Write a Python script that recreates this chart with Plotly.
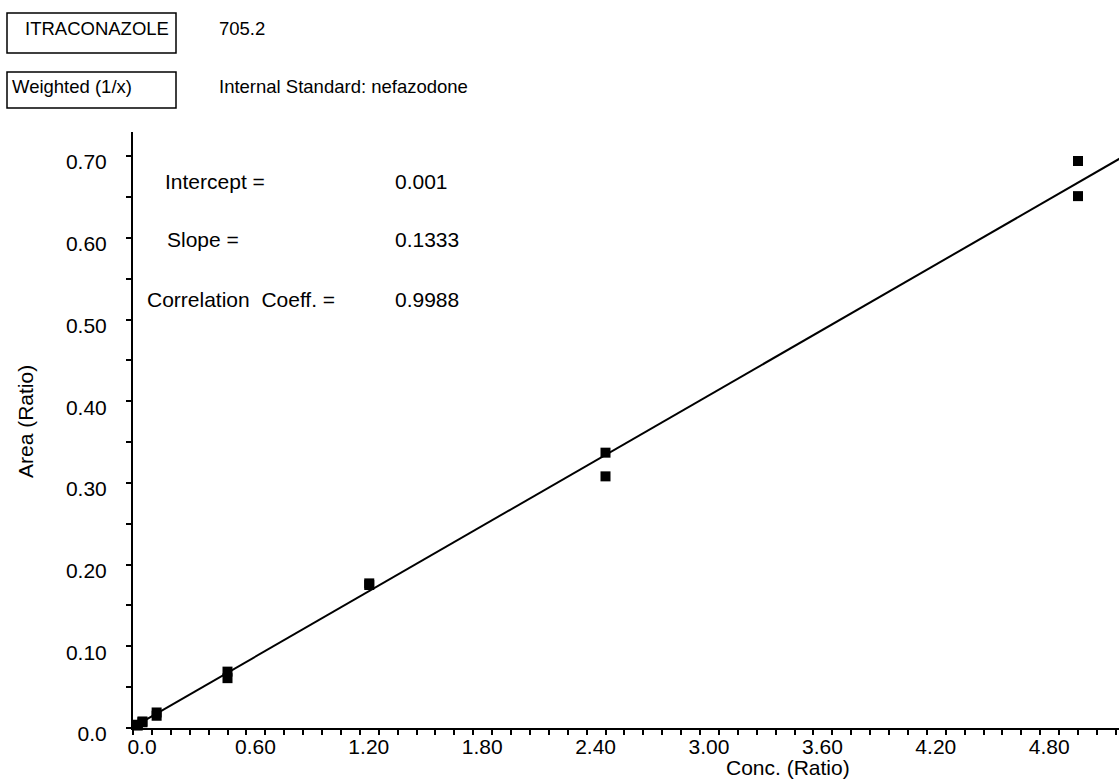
import plotly.graph_objects as go

# ---- data ----
conc = [0.025, 0.025, 0.05, 0.05, 0.125, 0.125, 0.5, 0.5, 1.25, 1.25, 2.5, 2.5, 5.0, 5.0]
area = [0.003, 0.004, 0.007, 0.008, 0.019, 0.015, 0.069, 0.061, 0.177, 0.175, 0.337, 0.308, 0.694, 0.651]
intercept = 0.001
slope = 0.1333
corr = 0.9988
line_x = [0.0, 5.3]

x_tickvals = [0.0, 0.6, 1.2, 1.8, 2.4, 3.0, 3.6, 4.2, 4.8]
x_ticktext = ["0.0", "0.60", "1.20", "1.80", "2.40", "3.00", "3.60", "4.20", "4.80"]
y_tickvals = [0.0, 0.1, 0.2, 0.3, 0.4, 0.5, 0.6, 0.7]
y_ticktext = ["0.0", "0.10", "0.20", "0.30", "0.40", "0.50", "0.60", "0.70"]

compound = "ITRACONAZOLE"
mass = "705.2"
weighting = "Weighted (1/x)"
istd = "Internal Standard: nefazodone"

# ---- layout geometry (pixels) ----
W, H = 1119, 780
L, R, T, B = 133, 0, 132, 52
PW, PH = W - L - R, H - T - B

def px(xp):
    return (xp - L) / PW

def py(yp):
    return (H - B - yp) / PH

FONT = "Liberation Sans, Arial, Helvetica, sans-serif"

fig = go.Figure()
line_y = [intercept + slope * v for v in line_x]
fig.add_trace(go.Scatter(x=line_x, y=line_y, mode="lines",
                         line=dict(color="black", width=2), showlegend=False,
                         cliponaxis=True))
fig.add_trace(go.Scatter(x=conc, y=area, mode="markers",
                         marker=dict(symbol="square", size=10, color="black",
                                     line=dict(width=0)),
                         showlegend=False, cliponaxis=False))

fig.update_layout(
    width=W, height=H,
    margin=dict(l=L, r=R, t=T, b=B, pad=0),
    paper_bgcolor="white", plot_bgcolor="white",
    font=dict(family=FONT, color="black", size=21),
    xaxis=dict(range=[0, PW / 189.0], showgrid=False, zeroline=False,
               showline=True, linecolor="black", linewidth=2,
               tickmode="array", tickvals=x_tickvals, ticktext=x_ticktext,
               ticks="outside", ticklen=5, tickwidth=1.5, tickcolor="black",
               minor=dict(dtick=0.1, tick0=0, ticks="outside", ticklen=5,
                          tickwidth=1.5, tickcolor="black", showgrid=False),
               tickfont=dict(size=21), ticklabelshift=9, ticklabelstandoff=-6,
               fixedrange=True),
    yaxis=dict(range=[0, PH / 817.0], showgrid=False, zeroline=False,
               showline=True, linecolor="black", linewidth=2,
               tickmode="array", tickvals=y_tickvals, ticktext=y_ticktext,
               ticks="outside", ticklen=5, tickwidth=1.5, tickcolor="black",
               minor=dict(dtick=0.05, tick0=0, ticks="outside", ticklen=5,
                          tickwidth=1.5, tickcolor="black", showgrid=False),
               tickfont=dict(size=21), ticklabelshift=6, ticklabelstandoff=15,
               fixedrange=True),
)

def note(text, xp, yp, size=21, anchor="left", angle=0):
    fig.add_annotation(text=text, x=px(xp), y=py(yp), xref="paper", yref="paper",
                       xanchor=anchor, yanchor="middle", showarrow=False,
                       font=dict(size=size, family=FONT, color="black"),
                       textangle=angle)

# header boxes
for (y0, y1) in [(13, 53), (72, 108)]:
    fig.add_shape(type="rect", xref="paper", yref="paper",
                  x0=px(7), x1=px(176), y0=py(y1), y1=py(y0),
                  line=dict(color="black", width=1.5), fillcolor="rgba(0,0,0,0)")

note(compound, 23, 28, size=18.5)
note(mass, 217, 28, size=18.5)
note(weighting, 10, 87, size=18.5)
note(istd, 217, 87, size=18.5)

# statistics
note("Intercept =", 163, 181)
note(f"{intercept:.3f}", 393, 181)
note("Slope =", 165, 239)
note(f"{slope:.4f}", 393, 239)
note("Correlation  Coeff. =", 145, 299)
note(f"{corr:.4f}", 393, 299)

# axis titles
note("Conc. (Ratio)", 788, 767, anchor="center")
note("Area (Ratio)", 25, 422, anchor="center", angle=-90)

fig.write_html("out.html")
